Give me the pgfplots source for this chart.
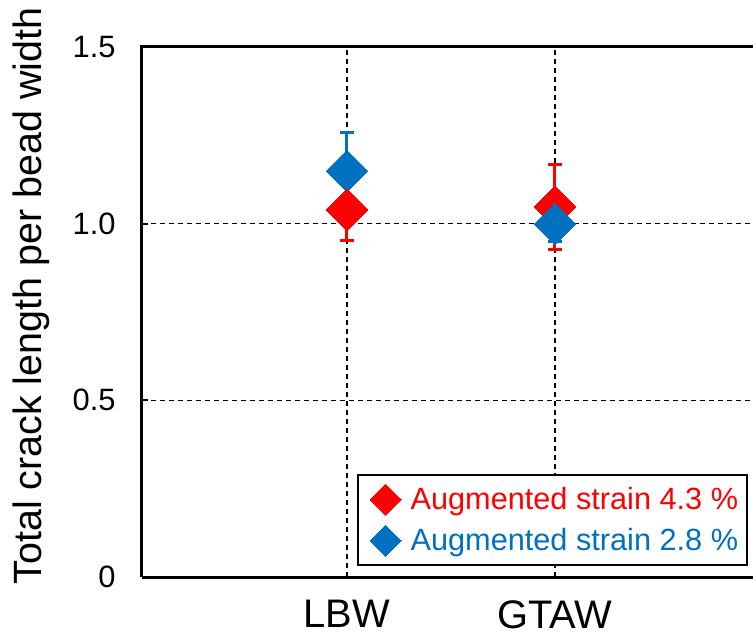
\documentclass[border=0pt]{standalone}
\usepackage{pgfplots}
\pgfplotsset{compat=1.18}
\usepackage{fontspec}
\setmainfont{Liberation Sans}
\definecolor{cred}{RGB}{255,0,0}
\definecolor{cblue}{RGB}{0,112,192}
\begin{document}
\begin{tikzpicture}
\begin{axis}[
  scale only axis,
  width=305.5bp, height=265bp,
  xmin=0.0144, xmax=2.952,
  ymin=0, ymax=1.5,
  axis x line*=bottom, axis y line*=left,
  axis line style={line width=1.5bp},
  xtick={1,2}, xticklabels={LBW,GTAW},
  ytick={0,0.5,1,1.5}, yticklabels={0,0.5,1.0,1.5},
  major x tick style={draw=none},
  major y tick style={line width=1bp, black},
  major tick length=3bp,
  tick align=inside,
  xticklabel style={font=\fontsize{20}{24}\selectfont, inner sep=0pt, anchor=north, yshift=-11.5bp},
  yticklabel style={font=\fontsize{15.5}{18}\selectfont, inner sep=0pt, anchor=east, xshift=-13bp},
  ylabel={Total crack length per bead width},
  ylabel style={font=\fontsize{19.8}{23}\selectfont, at={(axis description cs:-0.212,0.53)}, anchor=north, rotate=0, inner sep=0pt},
  extra x ticks={1,2}, extra x tick labels={},
  extra x tick style={grid=major, major x tick style={draw=none}},
  extra y ticks={0.5,1.0}, extra y tick labels={},
  extra y tick style={grid=major, major tick length=0pt},
  grid style={black, line width=0.75bp, dash pattern=on 2.5bp off 2bp},
  clip=false,
  legend style={at={(rel axis cs:0.992,0.02)}, anchor=south east, draw=black, line width=1bp,
    font=\fontsize{15.4}{17}\selectfont, inner xsep=3bp, inner ysep=4.5bp, row sep=5bp,
    nodes={inner sep=1.5bp}},
  legend cell align=left,
  legend image code/.code={\path[draw=none, fill=none] (0bp,-1bp) rectangle (22bp,1bp); \draw[#1, only marks] plot coordinates {(11bp,0bp)};},
  legend image post style={mark size=5.5bp, line width=0pt},
]
% error bars first (behind markers)
\addplot[cred, only marks, mark=none, forget plot,
  error bars/.cd, y dir=both, y explicit,
  error bar style={line width=1.5bp, cred}, error mark=-, error mark options={rotate=90, line width=1.5bp, mark size=3.5bp, cred}]
  coordinates {(1,1.039) +- (0,0.088) (2,1.048) +- (0,0.12)};
\addplot[cblue, only marks, mark=none, forget plot,
  error bars/.cd, y dir=both, y explicit,
  error bar style={line width=1.5bp, cblue}, error mark=-, error mark options={rotate=90, line width=1.5bp, mark size=3.5bp, cblue}]
  coordinates {(1,1.149) +- (0,0.108) (2,0.999) +- (0,0.05)};
% markers
\addplot[only marks, mark=square*, mark size=7.4bp, mark options={rotate=45, fill=cblue, draw=cblue, line width=0pt}, forget plot]
  coordinates {(1,1.149)};
\addplot[only marks, mark=square*, mark size=7.4bp, mark options={rotate=45, fill=cred, draw=cred, line width=0pt}]
  coordinates {(1,1.039) (2,1.048)};
\addlegendentry{\textcolor{cred}{Augmented strain 4.3 \%}}
\addplot[only marks, mark=square*, mark size=7.4bp, mark options={rotate=45, fill=cblue, draw=cblue, line width=0pt}]
  coordinates {(2,0.999)};
\addlegendentry{\textcolor{cblue}{Augmented strain 2.8 \%}}
\draw[line width=1.5bp] ([xshift=-0.75bp]rel axis cs:0,1) -- (rel axis cs:1.05,1);
\draw[line width=1.5bp] (rel axis cs:0,0) -- (rel axis cs:1.05,0);
\end{axis}
\pgfresetboundingbox
\path[use as bounding box] (-71bp,-29.5bp) rectangle (305.5bp,288.5bp);
\end{tikzpicture}
\end{document}
